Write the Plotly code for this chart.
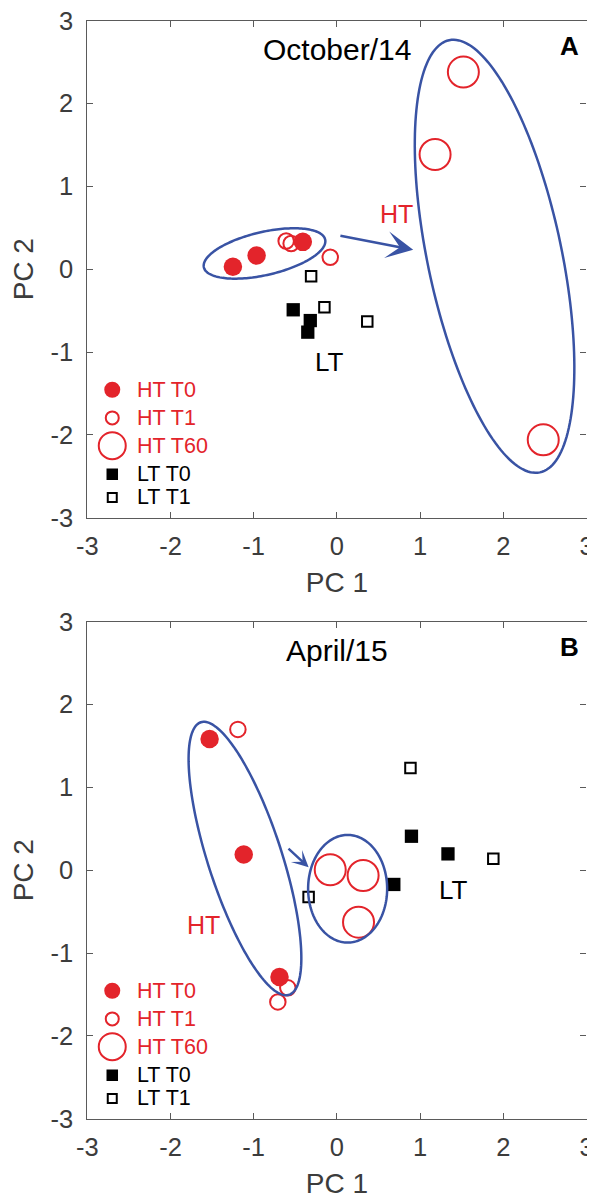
import numpy as np
import plotly.graph_objects as go

# ---------------- data ----------------
# Panel A  (October/14)
oct_ht_t0_x = [-1.25, -0.965, -0.41]
oct_ht_t0_y = [0.03, 0.165, 0.33]
oct_ht_t1_x = [-0.61, -0.55, -0.08]
oct_ht_t1_y = [0.34, 0.31, 0.145]
oct_ht_t60_x = [1.52, 1.18, 2.48]
oct_ht_t60_y = [2.38, 1.385, -2.06]
oct_lt_t0_x = [-0.525, -0.32, -0.35]
oct_lt_t0_y = [-0.49, -0.62, -0.76]
oct_lt_t1_x = [-0.31, -0.15, 0.365]
oct_lt_t1_y = [-0.085, -0.46, -0.63]

# Panel B  (April/15)
apr_ht_t0_x = [-1.53, -1.12, -0.69]
apr_ht_t0_y = [1.583, 0.19, -1.29]
apr_ht_t1_x = [-1.19, -0.59, -0.71]
apr_ht_t1_y = [1.70, -1.42, -1.59]
apr_ht_t60_x = [-0.08, 0.315, 0.26]
apr_ht_t60_y = [0.005, -0.064, -0.627]
apr_lt_t0_x = [0.896, 1.335, 0.684]
apr_lt_t0_y = [0.41, 0.197, -0.172]
apr_lt_t1_x = [0.884, 1.88, -0.34]
apr_lt_t1_y = [1.234, 0.137, -0.325]

tick_vals = [-3, -2, -1, 0, 1, 2, 3]
tick_text = ["-3", "-2", "-1", "0", "1", "2", "3"]
legend_labels = ["HT T0", "HT T1", "HT T60", "LT T0", "LT T1"]

# ellipse outlines: (cx, cy, semi-major, semi-minor, angle deg)
oct_ellipses = [(-0.87, 0.19, 0.748, 0.26, 13.0),
                (1.895, 0.156, 2.665, 0.806, 101.8)]
apr_ellipses = [(-1.105, 0.141, 1.728, 0.444, 107.85),
                (0.129, -0.224, 0.65, 0.475, 90.0)]
# arrows: (tail_x, tail_y, tip_x, tip_y)
oct_arrow = (0.024, 0.407, 0.917, 0.234)
apr_arrow = (-0.60, 0.277, -0.34, 0.036)

# ---------------- style ----------------
RED = "#E3242B"
BLUE = "#3953A4"
AX = "#5a5a5a"
TXT = "#3c3c3c"
FONT = "Liberation Sans, Arial, sans-serif"

fig = go.Figure()


def add_panel(xa, ya, ht0, ht1, ht60, lt0, lt1):
    common = dict(mode="markers", xaxis=xa, yaxis=ya, showlegend=False,
                  hoverinfo="skip")
    fig.add_trace(go.Scatter(x=ht60[0], y=ht60[1], marker=dict(
        symbol="circle-open", size=31, color=RED, line=dict(width=2, color=RED)), **common))
    fig.add_trace(go.Scatter(x=ht1[0], y=ht1[1], marker=dict(
        symbol="circle-open", size=15.5, color=RED, line=dict(width=2, color=RED)), **common))
    fig.add_trace(go.Scatter(x=ht0[0], y=ht0[1], marker=dict(
        symbol="circle", size=18.5, color=RED, line=dict(width=0)), **common))
    fig.add_trace(go.Scatter(x=lt1[0], y=lt1[1], marker=dict(
        symbol="square-open", size=10.5, color="black", line=dict(width=2, color="black")), **common))
    fig.add_trace(go.Scatter(x=lt0[0], y=lt0[1], marker=dict(
        symbol="square", size=13.3, color="black", line=dict(width=0)), **common))


add_panel("x", "y",
          (oct_ht_t0_x, oct_ht_t0_y), (oct_ht_t1_x, oct_ht_t1_y),
          (oct_ht_t60_x, oct_ht_t60_y), (oct_lt_t0_x, oct_lt_t0_y),
          (oct_lt_t1_x, oct_lt_t1_y))
add_panel("x2", "y2",
          (apr_ht_t0_x, apr_ht_t0_y), (apr_ht_t1_x, apr_ht_t1_y),
          (apr_ht_t60_x, apr_ht_t60_y), (apr_lt_t0_x, apr_lt_t0_y),
          (apr_lt_t1_x, apr_lt_t1_y))

# manual legends (marker + text), positioned in axis units
leg_marker_x = -2.70
leg_text_x = -2.43
leg_rows_y = [-1.455, -1.795, -2.13, -2.475, -2.755]
leg_styles = [
    dict(symbol="circle", size=16, color=RED, line=dict(width=0)),
    dict(symbol="circle-open", size=13, color=RED, line=dict(width=2, color=RED)),
    dict(symbol="circle-open", size=27, color=RED, line=dict(width=2, color=RED)),
    dict(symbol="square", size=11.5, color="black", line=dict(width=0)),
    dict(symbol="square-open", size=9, color="black", line=dict(width=2, color="black")),
]
leg_colors = [RED, RED, RED, "black", "black"]

annotations = []
shapes = []


def ellipse_path(cx, cy, a, b, ang):
    t = np.linspace(0, 2 * np.pi, 181)
    p = np.deg2rad(ang)
    xs = cx + a * np.cos(t) * np.cos(p) - b * np.sin(t) * np.sin(p)
    ys = cy + a * np.cos(t) * np.sin(p) + b * np.sin(t) * np.cos(p)
    d = "M " + " L ".join(f"{x:.4f},{y:.4f}" for x, y in zip(xs, ys)) + " Z"
    return d


for xa, ya, ells, arr, asize, title, letter, ht_pos, lt_pos in [
    ("x", "y", oct_ellipses, oct_arrow, 1.8, "October/14", "A", (0.717, 0.67), (-0.084, -1.123)),
    ("x2", "y2", apr_ellipses, apr_arrow, 1.1, "April/15", "B", (-1.60, -0.666), (1.40, -0.236)),
]:
    for i, (lab, st) in enumerate(zip(legend_labels, leg_styles)):
        fig.add_trace(go.Scatter(x=[leg_marker_x], y=[leg_rows_y[i]], mode="markers",
                                 marker=st, xaxis=xa, yaxis=ya, showlegend=False,
                                 hoverinfo="skip"))
        annotations.append(dict(x=leg_text_x, y=leg_rows_y[i], xref=xa, yref=ya,
                                text=lab, showarrow=False, xanchor="left", yanchor="middle",
                                font=dict(family=FONT, size=21.5, color=leg_colors[i])))
    for e in ells:
        shapes.append(dict(type="path", path=ellipse_path(*e), xref=xa, yref=ya,
                           line=dict(color=BLUE, width=2.5), layer="above"))
    annotations.append(dict(x=arr[2], y=arr[3], ax=arr[0], ay=arr[1], xref=xa, yref=ya,
                            axref=xa, ayref=ya, text="", showarrow=True, arrowhead=3,
                            arrowsize=asize, arrowwidth=2.5, arrowcolor=BLUE, standoff=0))
    annotations.append(dict(x=0, y=2.655, xref=xa, yref=ya, text=title, showarrow=False,
                            xanchor="center", yanchor="middle",
                            font=dict(family=FONT, size=30, color="black")))
    annotations.append(dict(x=2.93, y=2.70, xref=xa, yref=ya, text="<b>" + letter + "</b>",
                            showarrow=False, xanchor="right", yanchor="middle",
                            font=dict(family=FONT, size=26, color="black")))
    annotations.append(dict(x=ht_pos[0], y=ht_pos[1], xref=xa, yref=ya, text="HT",
                            showarrow=False, xanchor="center", yanchor="middle",
                            font=dict(family=FONT, size=25, color=RED)))
    annotations.append(dict(x=lt_pos[0], y=lt_pos[1], xref=xa, yref=ya, text="LT",
                            showarrow=False, xanchor="center", yanchor="middle",
                            font=dict(family=FONT, size=26, color="black")))

axis_common = dict(range=[-3, 3], tickvals=tick_vals, ticktext=tick_text,
                   showline=True, linecolor=AX, linewidth=1.2, mirror="ticks",
                   ticks="inside", ticklen=6, tickcolor=AX, tickwidth=1,
                   showgrid=False, zeroline=False, automargin=False,
                   ticklabeloverflow="allow",
                   tickfont=dict(family=FONT, size=25.5, color=TXT))

# the page body adds an 8px offset; target pixel positions are corrected for it
OFF = 8
W, H = 595, 1201 - OFF
xdom = [(87.3 - OFF) / W, (586.5 - OFF) / W]
ydom_top = [(H - (517.7 - OFF)) / H, (H - (20.7 - OFF)) / H]
ydom_bot = [(H - (1118.7 - OFF)) / H, (H - (621.7 - OFF)) / H]

xtitle = dict(text="PC 1", font=dict(family=FONT, size=28, color=TXT), standoff=12)
ytitle = dict(text="PC 2", font=dict(family=FONT, size=28, color=TXT), standoff=10)

fig.update_layout(
    width=W, height=H,
    margin=dict(l=0, r=0, t=0, b=0, autoexpand=False),
    paper_bgcolor="white", plot_bgcolor="white",
    showlegend=False,
    xaxis=dict(domain=xdom, anchor="y", ticklabelstandoff=6, title=xtitle, **axis_common),
    yaxis=dict(domain=ydom_top, anchor="x", ticklabelstandoff=8, title=ytitle, **axis_common),
    xaxis2=dict(domain=xdom, anchor="y2", ticklabelstandoff=6, title=xtitle, **axis_common),
    yaxis2=dict(domain=ydom_bot, anchor="x2", ticklabelstandoff=8, title=ytitle, **axis_common),
    annotations=annotations,
    shapes=shapes,
)

fig.write_html("out.html")
